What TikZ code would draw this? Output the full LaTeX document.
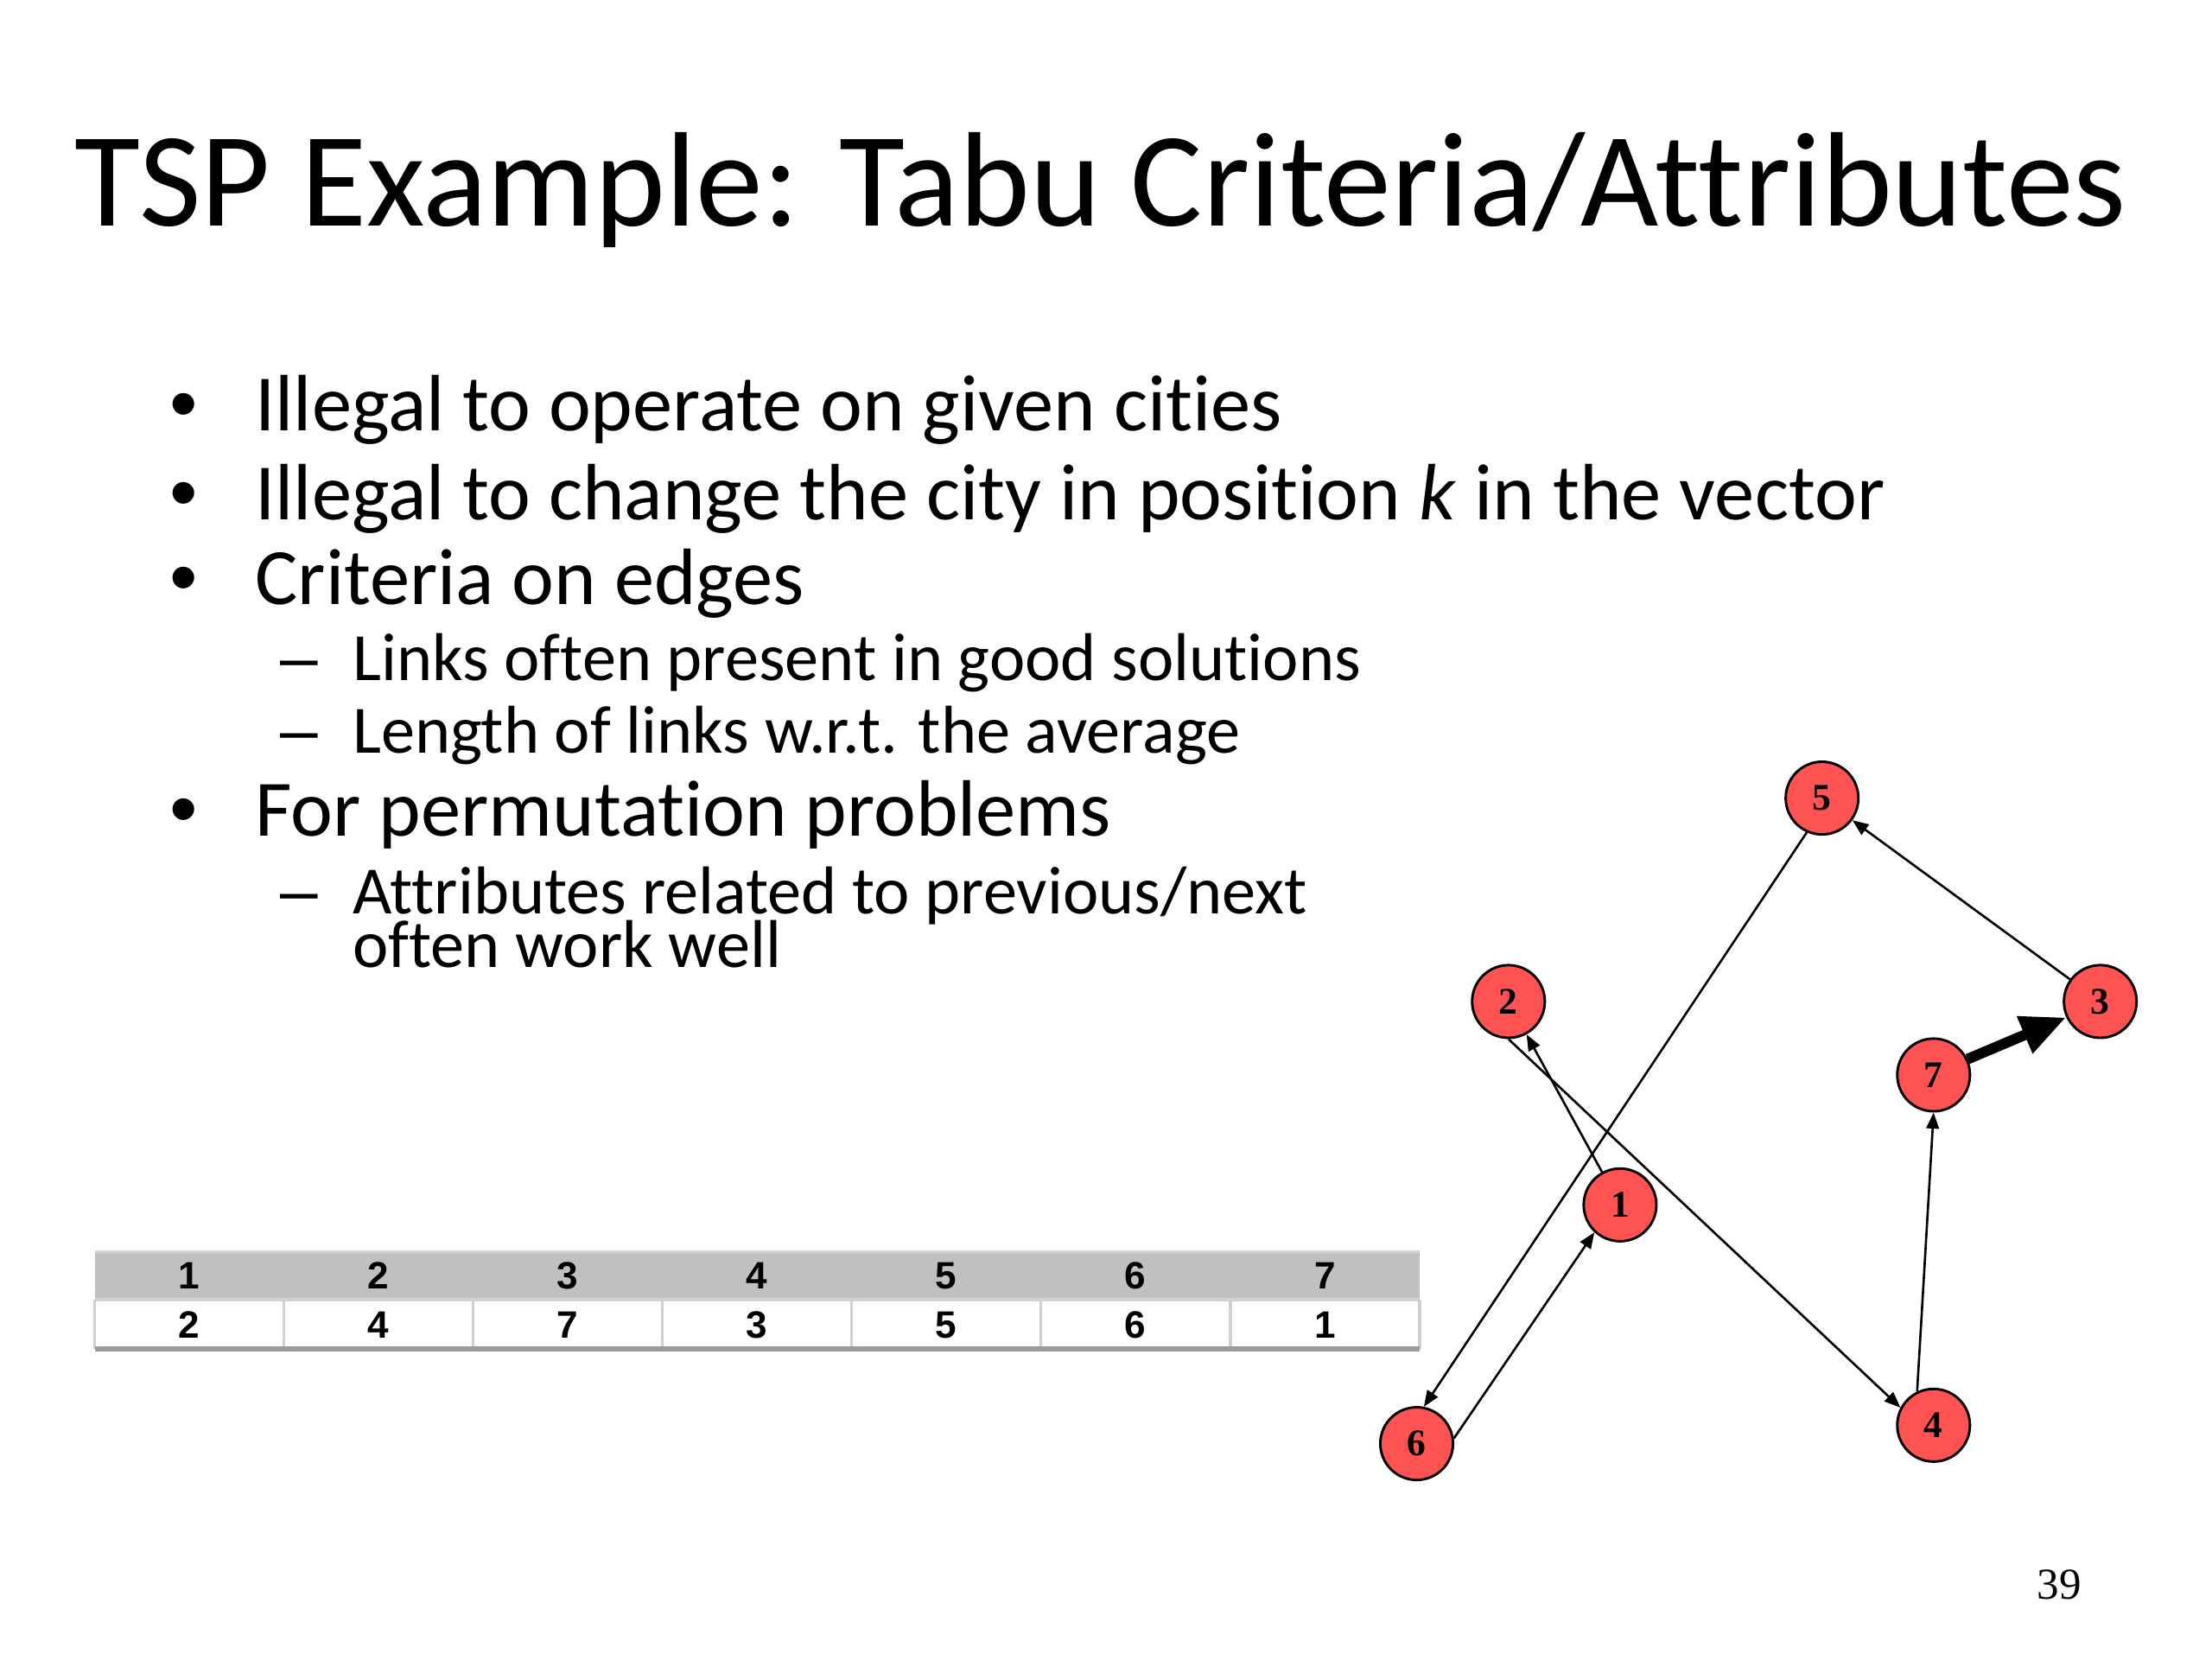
\documentclass[tikz,border=0pt]{standalone}
\usepackage{fontspec}
\setmainfont{Carlito}[Ligatures={NoCommon}]
\newfontfamily\arialfont{Liberation Sans}
\newfontfamily\timesfont{Liberation Serif}
\usetikzlibrary{arrows.meta}
\newcommand\mytightlines{\lineskiplimit=-20pt\lineskip=0pt\relax}
\definecolor{cityred}{HTML}{FF5252}
\definecolor{hdrgray}{HTML}{C0C0C0}
\definecolor{cellline}{HTML}{CFCFCF}
\tikzset{
  city/.style={circle,draw=black,line width=0.5pt,fill=cityred,minimum size=51*0.01cm,inner sep=0pt,font=\timesfont\bfseries\fontsize{7.5}{8}\selectfont},
  tour/.style={line width=0.45pt,-{Triangle[length=3.2pt,width=2.5pt]}},
  boldtour/.style={line width=2.1pt,-{Triangle[length=9pt,width=7.5pt]}},
  ttl/.style={anchor=base west,inner sep=0pt,font=\fontsize{26.85}{30}\selectfont},
  lvlone/.style={anchor=base west,inner sep=0pt,font=\fontsize{15.95}{19}\selectfont},
  lvltwo/.style={anchor=base west,inner sep=0pt,font=\fontsize{13.5}{10.7}\selectfont\mytightlines},
  bulletmark/.style={anchor=base,inner sep=0pt,font=\arialfont\fontsize{15.95}{19}\selectfont},
  dashmark/.style={anchor=base west,inner sep=0pt,font=\arialfont\fontsize{13.5}{16}\selectfont},
  cellnum/.style={inner sep=0pt,font=\arialfont\bfseries\fontsize{7.6}{8}\selectfont},
}
\begin{document}
\begin{tikzpicture}[x=0.00991cm,y=-0.00991cm]
\useasboundingbox (0,0) rectangle (1566.1,1174.6);
\fill[white] (0,0) rectangle (1566.1,1174.6);
% title
\node[ttl] (title) at (52,160) {TSP Example: Tabu Criteria/Attributes};
% bullets
\node[bulletmark] (b1) at (130,305) {•};
\node[lvlone] (t1) at (180,305) {Illegal to operate on given cities};
\node[bulletmark] (b2) at (130,368) {•};
\node[lvlone] (t2) at (180,368) {Illegal to change the city in position \textit{k} in the vector};
\node[bulletmark] (b3) at (130,428) {•};
\node[lvlone] (t3) at (180,428) {Criteria on edges};
\node[dashmark] (d1) at (198,482) {–};
\node[lvltwo] (s1) at (249,482) {Links often present in good solutions};
\node[dashmark] (d2) at (198,533) {–};
\node[lvltwo] (s2) at (249,533) {Length of links w.r.t. the average};
\node[bulletmark] (b4) at (130,592) {•};
\node[lvlone] (t4) at (180,592) {For permutation problems};
\node[dashmark] (d3) at (198,647) {–};
\node[lvltwo,align=left] (s3) at (249,685) {Attributes related to previous/next\\often work well};
% table
\fill[hdrgray] (67,886) rectangle (1005,920);
\fill[white] (67,920) rectangle (1005,955);
\foreach \i in {0,...,7} {
  \draw[cellline,line width=0.6pt] ({67+134*\i},920) -- ({67+134*\i},955);
}
\draw[cellline,line width=0.6pt] (67,920) -- (1005,920);
\draw[hdrgray!80!black,line width=0.9pt] (67,955) -- (1005,955);
\draw[hdrgray!70!white,line width=0.6pt] (67,886) -- (1005,886);
\foreach \i/\v in {1/1,2/2,3/3,4/4,5/5,6/6,7/7} {
  \node[cellnum] (h\i) at ({67+134*\i-67},903) {\v};
}
\foreach \i/\v in {1/2,2/4,3/7,4/3,5/5,6/6,7/1} {
  \node[cellnum] (r\i) at ({67+134*\i-67},938) {\v};
}
% graph
\node[city] (n5) at (1290,565) {5};
\node[city] (n2) at (1068,709) {2};
\node[city] (n3) at (1487,709) {3};
\node[city] (n7) at (1369,761) {7};
\node[city] (n1) at (1147,853) {1};
\node[city] (n6) at (1003,1022) {6};
\node[city] (n4) at (1369,1009) {4};
\draw[tour] (n1) -- (n2);
\draw[tour] (n2.-90) -- (n4.152);
\draw[tour] (n4.116) -- (n7.270);
\draw[boldtour] (n7.25) -- (n3.205);
\draw[tour] (n3) -- (n5);
\draw[tour] (n5.246) -- (n6.79);
\draw[tour] (n6.8) -- (n1.227);
% page number
\node[inner sep=0pt,font=\timesfont\fontsize{8.8}{10}\selectfont] (pg) at (1458,1122) {39};
\end{tikzpicture}
\end{document}
